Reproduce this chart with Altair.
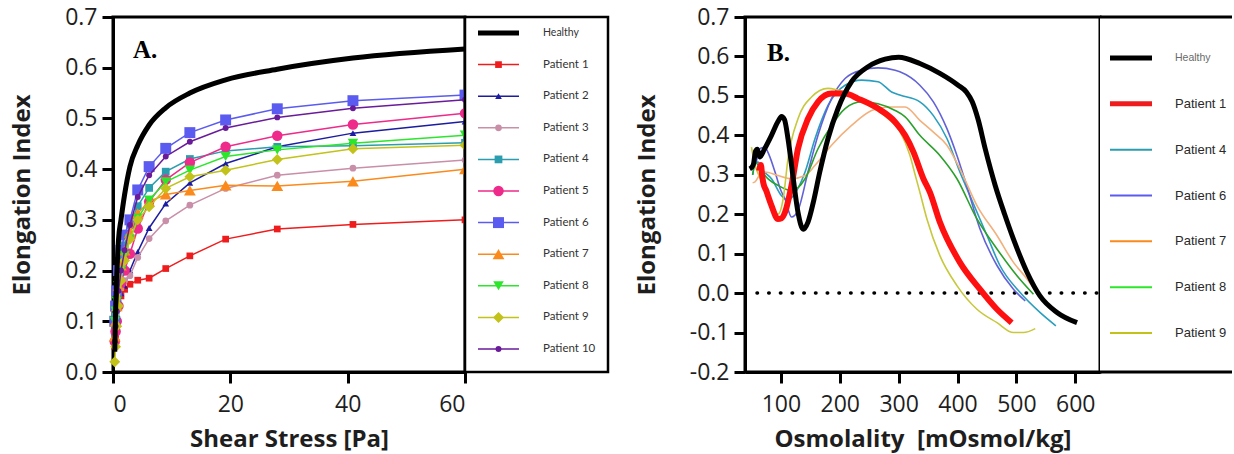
import altair as alt
import pandas as pd

# ---------------- Panel A: elongation index vs shear stress ----------------
shear_stress = [0.30, 0.44, 0.64, 0.93, 1.36, 1.98, 2.89, 4.22, 6.16, 8.99, 13.1, 19.2, 28.0, 40.9, 60.0]

a_healthy = [0.04, 0.12, 0.19, 0.26, 0.30, 0.35, 0.405, 0.447, 0.487, 0.521, 0.550, 0.576, 0.597, 0.619, 0.637]
a_patient1 = [0.05, 0.07, 0.10, 0.13, 0.15, 0.163, 0.173, 0.181, 0.185, 0.204, 0.229, 0.262, 0.282, 0.291, 0.300]
a_patient2 = [0.10, 0.12, 0.13, 0.14, 0.155, 0.17, 0.20, 0.237, 0.284, 0.332, 0.373, 0.411, 0.444, 0.471, 0.494]
a_patient3 = [0.08, 0.10, 0.12, 0.14, 0.165, 0.18, 0.19, 0.226, 0.263, 0.298, 0.329, 0.362, 0.388, 0.402, 0.418]
a_patient4 = [0.08, 0.11, 0.14, 0.18, 0.22, 0.25, 0.29, 0.327, 0.363, 0.395, 0.420, 0.436, 0.444, 0.446, 0.452]
a_patient5 = [0.06, 0.08, 0.10, 0.13, 0.175, 0.20, 0.233, 0.283, 0.336, 0.379, 0.413, 0.444, 0.466, 0.488, 0.510]
a_patient6 = [0.10, 0.13, 0.16, 0.20, 0.24, 0.27, 0.30, 0.359, 0.405, 0.441, 0.472, 0.497, 0.519, 0.535, 0.546]
a_patient7 = [0.07, 0.10, 0.13, 0.17, 0.21, 0.24, 0.275, 0.313, 0.336, 0.350, 0.358, 0.368, 0.367, 0.376, 0.400]
a_patient8 = [0.10, 0.12, 0.14, 0.17, 0.20, 0.23, 0.262, 0.303, 0.339, 0.375, 0.398, 0.425, 0.438, 0.451, 0.467]
a_patient9 = [0.02, 0.05, 0.09, 0.13, 0.18, 0.22, 0.262, 0.300, 0.326, 0.362, 0.385, 0.398, 0.419, 0.440, 0.447]
a_patient10 = [0.06, 0.09, 0.12, 0.16, 0.20, 0.24, 0.29, 0.345, 0.388, 0.425, 0.454, 0.481, 0.502, 0.520, 0.537]

names_a = ["Healthy"] + [f"Patient {i}" for i in range(1, 11)]
values_a = [a_healthy, a_patient1, a_patient2, a_patient3, a_patient4, a_patient5,
            a_patient6, a_patient7, a_patient8, a_patient9, a_patient10]
colors_a = ["#000000", "#ee1c1c", "#1c1ca0", "#c98fa8", "#2a9dae", "#ee2a8a",
            "#5b5bf0", "#fb8a1c", "#2ce62c", "#c2c21a", "#6a1b9a"]
shapes_a = [None, "square", "triangle-up", "circle", "square", "circle",
            "square", "triangle-up", "triangle-down", "diamond", "circle"]
sizes_a = [0, 45, 45, 45, 60, 110, 120, 140, 110, 120, 35]

# ---------------- Panel B: osmotic gradient curves ----------------
b_healthy_x = [47, 53, 57, 60, 64, 72, 84, 95, 101, 106, 112, 121, 129, 138, 146, 155, 166, 180, 197, 220,
               248, 277, 300, 336, 370, 401, 415, 425, 435, 447, 464, 480, 495, 518, 540, 569, 603]
b_healthy_y = [0.315, 0.325, 0.36, 0.365, 0.345, 0.365, 0.40, 0.435, 0.448, 0.44, 0.392, 0.29, 0.205, 0.162,
               0.18, 0.23, 0.307, 0.392, 0.468, 0.536, 0.574, 0.593, 0.598, 0.582, 0.557, 0.527, 0.51, 0.485,
               0.44, 0.366, 0.273, 0.20, 0.137, 0.053, -0.007, -0.049, -0.075]

b_patient1_x = [63, 66, 68, 70, 75, 84, 95, 101, 107, 118, 129, 146, 163, 186, 209, 231, 265, 294, 311,
                325, 342, 353, 370, 404, 438, 467, 492]
b_patient1_y = [0.31, 0.325, 0.30, 0.28, 0.26, 0.222, 0.188, 0.19, 0.205, 0.273, 0.366, 0.442, 0.485, 0.506,
                0.506, 0.493, 0.468, 0.434, 0.40, 0.358, 0.29, 0.256, 0.18, 0.078, 0.01, -0.041, -0.075]

b_patient4_x = [52, 56, 61, 70, 84, 101, 112, 120, 141, 158, 180, 209, 237, 265, 288, 302, 336, 359, 382,
                404, 421, 450, 472, 506, 540, 567]
b_patient4_y = [0.30, 0.33, 0.332, 0.31, 0.29, 0.247, 0.235, 0.245, 0.307, 0.392, 0.476, 0.527, 0.54, 0.536,
                0.51, 0.502, 0.485, 0.45, 0.392, 0.307, 0.247, 0.146, 0.07, 0.002, -0.049, -0.083]

b_patient6_x = [58, 64, 72, 80, 90, 100, 107, 118, 129, 146, 163, 186, 209, 237, 265, 294, 302, 336, 359,
                382, 399, 416, 438, 467, 495, 515]
b_patient6_y = [0.33, 0.366, 0.37, 0.35, 0.307, 0.26, 0.239, 0.193, 0.21, 0.307, 0.40, 0.493, 0.544, 0.565,
                0.571, 0.565, 0.561, 0.527, 0.485, 0.417, 0.349, 0.27, 0.163, 0.07, 0.01, -0.02]

b_patient7_x = [52, 56, 64, 73, 95, 118, 141, 158, 186, 220, 254, 283, 311, 336, 359, 382, 404, 433, 467,
                495, 518, 535]
b_patient7_y = [0.28, 0.282, 0.30, 0.307, 0.298, 0.29, 0.298, 0.324, 0.375, 0.425, 0.463, 0.472, 0.472,
                0.438, 0.408, 0.375, 0.315, 0.222, 0.146, 0.078, 0.036, 0.0]

b_patient8_x = [52, 57, 64, 72, 95, 118, 141, 163, 186, 209, 237, 265, 294, 311, 336, 370, 399, 433, 467,
                501, 529]
b_patient8_y = [0.30, 0.33, 0.32, 0.30, 0.273, 0.26, 0.29, 0.366, 0.425, 0.468, 0.485, 0.48, 0.463, 0.447,
                0.40, 0.349, 0.29, 0.188, 0.112, 0.044, -0.003]

b_patient9_x = [50, 55, 62, 72, 85, 95, 104, 112, 129, 152, 180, 193, 220, 250, 280, 302, 319, 328, 336,
                348, 370, 399, 433, 467, 495, 512, 532]
b_patient9_y = [0.37, 0.33, 0.30, 0.27, 0.22, 0.20, 0.24, 0.34, 0.442, 0.497, 0.519, 0.516, 0.50, 0.475,
                0.445, 0.41, 0.35, 0.30, 0.256, 0.188, 0.095, 0.019, -0.041, -0.075, -0.10, -0.10, -0.09]

names_b = ["Healthy", "Patient 1", "Patient 4", "Patient 6", "Patient 7", "Patient 8", "Patient 9"]
curves_b = [(b_healthy_x, b_healthy_y), (b_patient1_x, b_patient1_y), (b_patient4_x, b_patient4_y),
            (b_patient6_x, b_patient6_y), (b_patient7_x, b_patient7_y), (b_patient8_x, b_patient8_y),
            (b_patient9_x, b_patient9_y)]
colors_b = ["#000000", "#ff1010", "#2a9ebe", "#6262d8", "#f2b07c", "#2ca02c", "#c8c83c"]
widths_b = [5, 6, 1.6, 1.6, 1.6, 1.6, 1.6]

# ---------------- shared styling ----------------
FONT = "Open Sans"
INK = "#1e1e1e"
Y_LABELS = "(datum.value < 0 ? '-' : '') + format(abs(datum.value), '.1f')"

axis_style = dict(
    grid=False, domainColor="black", domainWidth=3, tickColor="black", tickWidth=3, tickSize=11,
    labelFont=FONT, labelFontSize=23, labelColor=INK, titleFont=FONT, titleFontWeight="bold",
    titleColor=INK,
)

PLOT_H = 355


def y_axis(ticks):
    return alt.Axis(values=ticks, labelExpr=Y_LABELS, labelPadding=5, title="Elongation Index",
                    titleFontSize=24, titlePadding=30, **axis_style)


def x_axis(ticks, title):
    return alt.Axis(values=ticks, format="d", title=title, titleFontSize=24,
                    labelPadding=10, titlePadding=11, **axis_style)


# ---------------- Panel A plot ----------------
xA = alt.X("x:Q", scale=alt.Scale(domain=[0, 60], nice=False, zero=False),
           axis=x_axis([0, 20, 40, 60], "Shear Stress [Pa]"))
yA = alt.Y("y:Q", scale=alt.Scale(domain=[0, 0.7], nice=False, zero=False),
           axis=y_axis([0, 0.1, 0.2, 0.3, 0.4, 0.5, 0.6, 0.7]))

layers_a = []
for name, vals, col, shp, sz in zip(names_a, values_a, colors_a, shapes_a, sizes_a):
    if name == "Healthy":
        continue
    df = pd.DataFrame({"x": shear_stress, "y": vals})
    layers_a.append(alt.Chart(df).mark_line(color=col, strokeWidth=1.5).encode(x=xA, y=yA))
    layers_a.append(alt.Chart(df).mark_point(shape=shp, size=sz, filled=True, opacity=1, color=col)
                    .encode(x=xA, y=yA))

healthy_a = pd.DataFrame({"x": shear_stress, "y": a_healthy})
layers_a.append(alt.Chart(healthy_a).mark_line(color="black", strokeWidth=5, interpolate="monotone")
                .encode(x=xA, y=yA))
layers_a.append(alt.Chart(pd.DataFrame({"t": ["A."]}))
                .mark_text(font="Liberation Serif", fontWeight="bold", fontSize=25, align="left",
                           baseline="middle", color="black")
                .encode(x=alt.value(20), y=alt.value(33), text="t:N"))

plot_a = alt.layer(*layers_a).properties(width=352, height=PLOT_H)

# ---------------- Panel A key ----------------
leg_a = pd.DataFrame({"series": names_a})
yLegA = alt.Y("series:N", scale=alt.Scale(type="point", domain=names_a, range=[16, 332], padding=0), axis=None)
key_a_layers = [
    alt.Chart(leg_a).mark_rule().encode(
        y=yLegA, x=alt.value(13), x2=alt.value(54),
        color=alt.Color("series:N", scale=alt.Scale(domain=names_a, range=colors_a), legend=None),
        strokeWidth=alt.condition(alt.datum.series == "Healthy", alt.value(5), alt.value(1.5)),
    )
]
for name, col, shp, sz in zip(names_a, colors_a, shapes_a, sizes_a):
    if name == "Healthy":
        continue
    key_a_layers.append(
        alt.Chart(leg_a).transform_filter(alt.datum.series == name)
        .mark_point(shape=shp, size=sz, filled=True, opacity=1, color=col)
        .encode(y=yLegA, x=alt.value(33.5))
    )
key_a_layers.append(
    alt.Chart(leg_a).mark_text(align="left", baseline="middle", font="Lato", color="#333333")
    .encode(y=yLegA, x=alt.value(78), text="series:N",
            size=alt.condition(alt.datum.series == "Healthy", alt.value(10.5), alt.value(11.5)))
)
key_a = alt.layer(*key_a_layers).properties(
    width=143, height=PLOT_H,
    view=alt.ViewBackground(fill="white", stroke="black", strokeWidth=2.5),
)

# ---------------- gap between the two panels ----------------
gap = alt.Chart(pd.DataFrame({"t": [""]})).mark_text().encode(text="t:N").properties(
    width=137, height=PLOT_H,
    view=alt.ViewBackground(fillOpacity=0, strokeWidth=0, strokeOpacity=0),
)

# ---------------- Panel B plot ----------------
xB = alt.X("x:Q", scale=alt.Scale(domain=[39, 642], nice=False, zero=False),
           axis=x_axis([100, 200, 300, 400, 500, 600], "Osmolality\u00a0\u00a0[mOsmol/kg]"))
yB = alt.Y("y:Q", scale=alt.Scale(domain=[-0.2, 0.7], nice=False, zero=False),
           axis=y_axis([-0.2, -0.1, 0, 0.1, 0.2, 0.3, 0.4, 0.5, 0.6, 0.7]))

layers_b = [
    alt.Chart(pd.DataFrame({"y": [0]}))
    .mark_rule(color="black", strokeWidth=3.5, strokeDash=[0.5, 11.2], strokeCap="round")
    .encode(y=yB, x=alt.value(12), x2=alt.value(352))
]
# thin patient curves first, then Patient 1, then Healthy on top
order_b = [2, 3, 4, 5, 6, 1, 0]
for i in order_b:
    xs, ys = curves_b[i]
    df = pd.DataFrame({"x": xs, "y": ys})
    layers_b.append(alt.Chart(df).mark_line(color=colors_b[i], strokeWidth=widths_b[i],
                                            interpolate="monotone", strokeJoin="round")
                    .encode(x=xB, y=yB))
layers_b.append(alt.Chart(pd.DataFrame({"t": ["B."]}))
                .mark_text(font="Liberation Serif", fontWeight="bold", fontSize=25, align="left",
                           baseline="middle", color="black")
                .encode(x=alt.value(22), y=alt.value(36), text="t:N"))

plot_b = alt.layer(*layers_b).properties(width=355, height=PLOT_H)

# ---------------- Panel B key ----------------
KEY_B_W = 132
leg_b = pd.DataFrame({"series": names_b})
yLegB = alt.Y("series:N", scale=alt.Scale(type="point", domain=names_b, range=[41, 316], padding=0), axis=None)
key_b = alt.layer(
    alt.Chart(leg_b).mark_rule().encode(
        y=yLegB, x=alt.value(10), x2=alt.value(52),
        color=alt.Color("series:N", scale=alt.Scale(domain=names_b, range=colors_b), legend=None),
        strokeWidth=alt.condition(
            (alt.datum.series == "Healthy") | (alt.datum.series == "Patient 1"), alt.value(5), alt.value(2)),
    ),
    alt.Chart(leg_b).mark_text(align="left", baseline="middle", font="Liberation Sans").encode(
        y=yLegB, x=alt.value(75), text="series:N",
        size=alt.condition(alt.datum.series == "Healthy", alt.value(10.5), alt.value(13)),
        color=alt.condition(alt.datum.series == "Healthy", alt.value("#6a6a6a"), alt.value("#2a2a2a")),
    ),
    alt.Chart(pd.DataFrame({"y": [0]})).mark_rule(color="black", strokeWidth=3).encode(
        y=alt.value(0), x=alt.value(0), x2=alt.value(KEY_B_W)),
    alt.Chart(pd.DataFrame({"y": [0]})).mark_rule(color="black", strokeWidth=3).encode(
        y=alt.value(PLOT_H), x=alt.value(0), x2=alt.value(KEY_B_W)),
).properties(
    width=KEY_B_W, height=PLOT_H,
    view=alt.ViewBackground(fill="white", strokeWidth=0, strokeOpacity=0),
)

chart = (
    alt.hconcat(plot_a, key_a, gap, plot_b, key_b, spacing=0, bounds="flush")
    .properties(padding={"left": 9, "top": 4, "right": 0, "bottom": 0}, background="white")
    .configure_view(stroke="black", strokeWidth=3)
)

chart.save("out.html", embed_options={"renderer": "svg", "actions": False})
